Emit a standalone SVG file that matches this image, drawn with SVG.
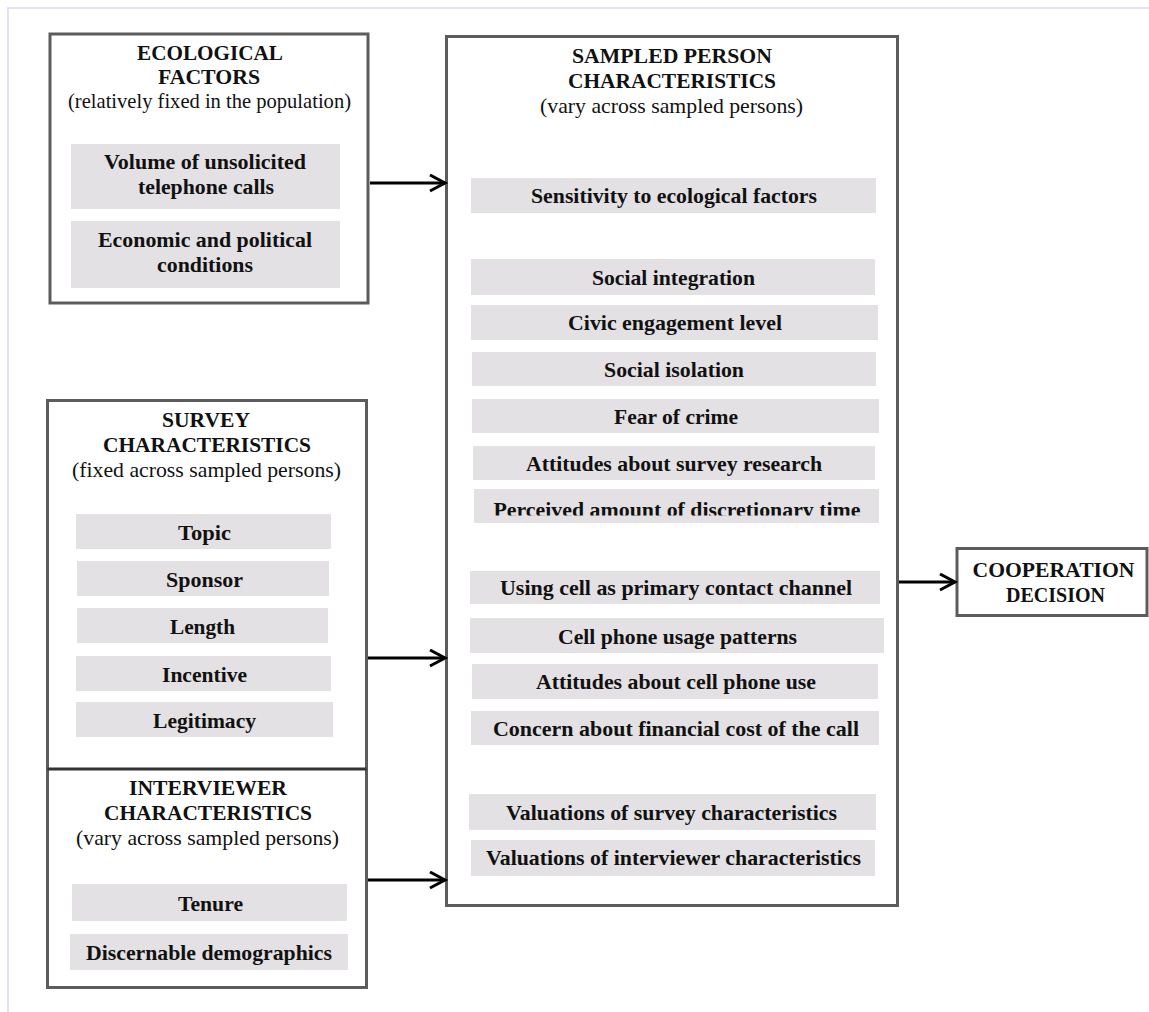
<svg xmlns="http://www.w3.org/2000/svg" width="1149" height="1012" viewBox="0 0 1149 1012">
<style>
  .frame { fill: none; stroke: #d9d9ee; stroke-width: 1.5; }
  .box { fill: #ffffff; stroke: #5c5c5c; stroke-width: 3; }
  .item { fill: #e3e1e3; }
  .t { font-family: "Liberation Serif", "Times New Roman", serif; font-size: 22px; fill: #111111; text-anchor: middle; }
  .b { font-weight: bold; }
  .conn { stroke: #000000; stroke-width: 3; fill: none; marker-end: url(#arrow); }
  .divider { stroke: #333333; stroke-width: 3; }
</style>
<defs>
  <marker id="arrow" markerUnits="userSpaceOnUse" markerWidth="20" markerHeight="20" refX="16" refY="9" orient="auto">
    <path d="M1,1 L16,9 L1,17" fill="none" stroke="#000000" stroke-width="3"/>
  </marker>
  <clipPath id="clipPerceived"><rect x="470" y="485" width="420" height="30.5"/></clipPath>
</defs>
<rect width="1149" height="1012" fill="#ffffff"/>
<rect class="frame" x="8" y="8" width="1160" height="1030"/>

<g id="ecological">
  <rect class="box" x="50" y="34" width="318" height="269"/>
  <text class="t b" x="210" y="60" textLength="146" lengthAdjust="spacingAndGlyphs">ECOLOGICAL</text>
  <text class="t b" x="209" y="84" textLength="102" lengthAdjust="spacingAndGlyphs">FACTORS</text>
  <text class="t" x="209.5" y="108" textLength="283" lengthAdjust="spacingAndGlyphs">(relatively fixed in the population)</text>
  <rect class="item" x="71" y="144" width="269" height="65"/>
  <text class="t b" x="205" y="169" textLength="202" lengthAdjust="spacingAndGlyphs">Volume of unsolicited</text>
  <text class="t b" x="206" y="194" textLength="136" lengthAdjust="spacingAndGlyphs">telephone calls</text>
  <rect class="item" x="71" y="221" width="269" height="67"/>
  <text class="t b" x="205" y="247" textLength="214" lengthAdjust="spacingAndGlyphs">Economic and political</text>
  <text class="t b" x="205" y="272" textLength="96" lengthAdjust="spacingAndGlyphs">conditions</text>
</g>

<g id="sampled-person">
  <rect class="box" x="446.5" y="36.5" width="451" height="869"/>
  <text class="t b" x="672" y="63" textLength="200" lengthAdjust="spacingAndGlyphs">SAMPLED PERSON</text>
  <text class="t b" x="672" y="88" textLength="208" lengthAdjust="spacingAndGlyphs">CHARACTERISTICS</text>
  <text class="t" x="671.5" y="113" textLength="263" lengthAdjust="spacingAndGlyphs">(vary across sampled persons)</text>

  <rect class="item" x="471" y="178" width="405" height="35"/>
  <text class="t b" x="674" y="203" textLength="286" lengthAdjust="spacingAndGlyphs">Sensitivity to ecological factors</text>

  <rect class="item" x="471" y="259" width="404" height="36"/>
  <text class="t b" x="673.5" y="285" textLength="163" lengthAdjust="spacingAndGlyphs">Social integration</text>
  <rect class="item" x="471" y="305" width="407" height="35"/>
  <text class="t b" x="675" y="330" textLength="214" lengthAdjust="spacingAndGlyphs">Civic engagement level</text>
  <rect class="item" x="472" y="352" width="404" height="34"/>
  <text class="t b" x="674" y="377" textLength="140" lengthAdjust="spacingAndGlyphs">Social isolation</text>
  <rect class="item" x="472" y="399" width="407" height="34"/>
  <text class="t b" x="676" y="424" textLength="124" lengthAdjust="spacingAndGlyphs">Fear of crime</text>
  <rect class="item" x="473" y="446" width="402" height="34"/>
  <text class="t b" x="674" y="471" textLength="296" lengthAdjust="spacingAndGlyphs">Attitudes about survey research</text>
  <rect class="item" x="474" y="489" width="405" height="34"/>
  <text class="t b" x="677" y="517" textLength="367" lengthAdjust="spacingAndGlyphs" clip-path="url(#clipPerceived)">Perceived amount of discretionary time</text>

  <rect class="item" x="470" y="571" width="410" height="33"/>
  <text class="t b" x="676" y="595" textLength="352" lengthAdjust="spacingAndGlyphs">Using cell as primary contact channel</text>
  <rect class="item" x="470" y="618" width="414" height="35"/>
  <text class="t b" x="677.5" y="644" textLength="239" lengthAdjust="spacingAndGlyphs">Cell phone usage patterns</text>
  <rect class="item" x="472" y="664" width="406" height="35"/>
  <text class="t b" x="676" y="689" textLength="280" lengthAdjust="spacingAndGlyphs">Attitudes about cell phone use</text>
  <rect class="item" x="471" y="711" width="408" height="34"/>
  <text class="t b" x="676" y="736" textLength="366" lengthAdjust="spacingAndGlyphs">Concern about financial cost of the call</text>

  <rect class="item" x="469" y="794" width="407" height="36"/>
  <text class="t b" x="671.5" y="820" textLength="331" lengthAdjust="spacingAndGlyphs">Valuations of survey characteristics</text>
  <rect class="item" x="471" y="840" width="404" height="36"/>
  <text class="t b" x="673.5" y="865" textLength="375" lengthAdjust="spacingAndGlyphs">Valuations of interviewer characteristics</text>
</g>

<g id="survey-interviewer">
  <rect class="box" x="47.5" y="400.5" width="319" height="587"/>
  <line class="divider" x1="47.5" y1="769" x2="366.5" y2="769"/>
</g>

<g id="survey">
  <text class="t b" x="206" y="427" textLength="88" lengthAdjust="spacingAndGlyphs">SURVEY</text>
  <text class="t b" x="207" y="452" textLength="208" lengthAdjust="spacingAndGlyphs">CHARACTERISTICS</text>
  <text class="t" x="206.5" y="477" textLength="269" lengthAdjust="spacingAndGlyphs">(fixed across sampled persons)</text>
  <rect class="item" x="76" y="514" width="255" height="35"/>
  <text class="t b" x="204.5" y="540" textLength="53" lengthAdjust="spacingAndGlyphs">Topic</text>
  <rect class="item" x="77" y="561" width="252" height="35"/>
  <text class="t b" x="204.5" y="587" textLength="77" lengthAdjust="spacingAndGlyphs">Sponsor</text>
  <rect class="item" x="77" y="608" width="251" height="35"/>
  <text class="t b" x="202.5" y="634" textLength="65" lengthAdjust="spacingAndGlyphs">Length</text>
  <rect class="item" x="76" y="656" width="255" height="35"/>
  <text class="t b" x="204.5" y="682" textLength="85" lengthAdjust="spacingAndGlyphs">Incentive</text>
  <rect class="item" x="76" y="702" width="257" height="35"/>
  <text class="t b" x="204.5" y="728" textLength="103" lengthAdjust="spacingAndGlyphs">Legitimacy</text>
</g>

<g id="interviewer">
  <text class="t b" x="208" y="795" textLength="158" lengthAdjust="spacingAndGlyphs">INTERVIEWER</text>
  <text class="t b" x="208" y="820" textLength="208" lengthAdjust="spacingAndGlyphs">CHARACTERISTICS</text>
  <text class="t" x="207.5" y="845" textLength="263" lengthAdjust="spacingAndGlyphs">(vary across sampled persons)</text>
  <rect class="item" x="72" y="884" width="275" height="37"/>
  <text class="t b" x="210.5" y="911" textLength="65" lengthAdjust="spacingAndGlyphs">Tenure</text>
  <rect class="item" x="70" y="934" width="278" height="36"/>
  <text class="t b" x="209" y="960" textLength="246" lengthAdjust="spacingAndGlyphs">Discernable demographics</text>
</g>

<g id="cooperation">
  <rect class="box" x="957" y="548.5" width="190" height="67"/>
  <text class="t b" x="1053.5" y="577" textLength="162" lengthAdjust="spacingAndGlyphs">COOPERATION</text>
  <text class="t b" x="1055.5" y="602" textLength="99" lengthAdjust="spacingAndGlyphs">DECISION</text>
</g>

<g id="connectors">
  <line class="conn" x1="370" y1="183" x2="445" y2="183"/>
  <line class="conn" x1="368" y1="658" x2="445" y2="658"/>
  <line class="conn" x1="368" y1="880" x2="445" y2="880"/>
  <line class="conn" x1="899" y1="582" x2="955" y2="582"/>
</g>
</svg>
